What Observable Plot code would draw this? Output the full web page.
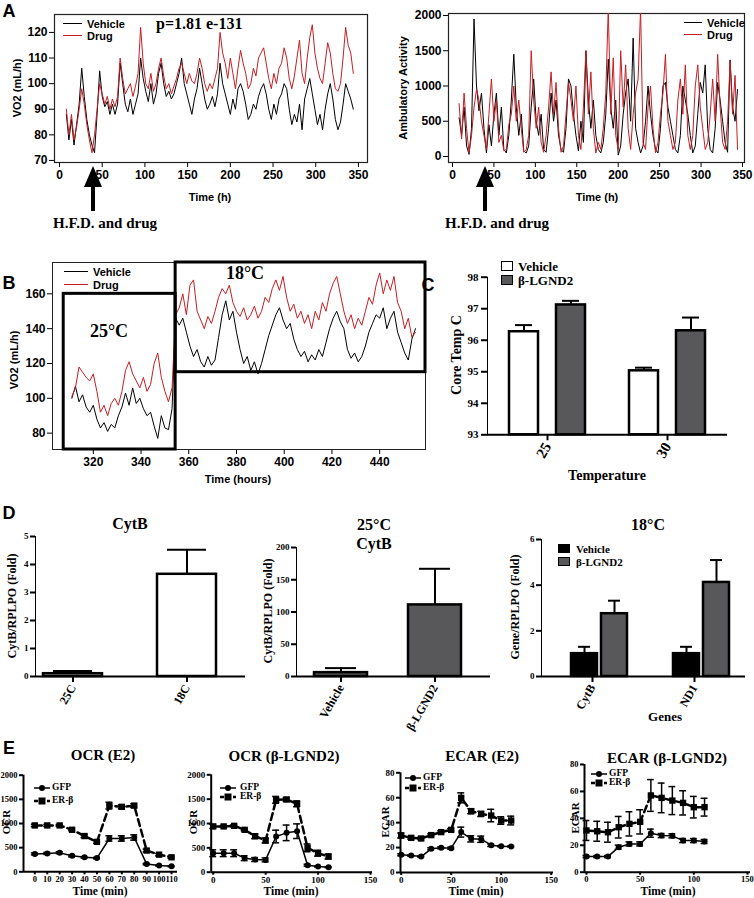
<!DOCTYPE html>
<html><head><meta charset="utf-8">
<script src="https://cdn.jsdelivr.net/npm/d3@7"></script>
<script src="https://cdn.jsdelivr.net/npm/@observablehq/plot@0.6"></script>
<style>
body{margin:0;background:#fff;}
#root{position:relative;width:754px;height:898px;overflow:hidden;background:#fff;}
.thick [aria-label*="axis"] line, .thick [aria-label*="axis"] path{stroke-width:2px;}
</style></head>
<body><div id="root"></div>
<script>
const SANS = '"Liberation Sans", Arial, sans-serif';
const SERIF = '"Liberation Serif", "Times New Roman", serif';
const RED = '#c41e24';
const GREY = '#58585a';

// ---------- Panel A (time series, 3 h sampling) ----------
const aStart = 8, aStep = 3;
const hfdTime = 40;
const aTicksX = [0, 50, 100, 150, 200, 250, 300, 350];
const aTicksY = [70, 80, 90, 100, 110, 120];
const actTicksY = [0, 500, 1000, 1500, 2000];
const vo2Vehicle = [88,78,86,76,84,92,106,95,86,80, 76,73,88,105,95,91,93,88,92,88, 92,108,100,92,89,94,88,92,96,110,
  102,97,93,100,92,96,104,108,100,95, 97,94,96,100,104,110,100,96,92,88, 94,98,106,100,94,90,92,95,91,96,
  108,100,96,92,88,94,90,98,100,97, 92,86,88,92,90,95,98,100,96,90, 86,92,88,94,96,100,98,90,84,88,
  85,92,82,94,98,102,96,90,84,88, 82,90,96,100,94,86,82,85,92,100, 97,94,90];
const vo2Drug = [90,80,88,78,83,90,98,92,84,78, 73,80,90,100,96,92,95,90,94,91, 95,110,102,96,98,100,95,99,104,122,
  108,100,98,104,97,100,106,110,103,98, 100,96,99,102,106,108,104,100,104,101, 100,104,110,106,100,97,100,98,102,106,
  120,112,108,102,110,104,98,106,113,108, 104,98,100,106,103,110,112,114,108,102, 98,104,100,106,108,114,110,102,98,103,
  110,117,104,100,110,118,123,112,106,102, 100,108,116,112,104,98,97,100,110,122, 115,112,104];
const actVehicle = [550,300,700,150,30,400,1950,1000,650,900, 400,50,450,150,600,900,300,700,100,50, 300,800,1450,700,300,600,80,50,150,700,
  1100,500,300,600,100,60,400,900,500,800, 300,100,60,400,1100,1000,600,300,80,500, 200,1500,800,400,800,300,100,50,200,600,
  1380,700,400,800,20,150,600,900,1100,500, 1680,400,200,50,150,500,1000,600,300,100, 50,400,1000,1050,700,500,300,100,50,300,
  1000,800,600,300,50,150,600,1050,900,1300, 400,100,50,400,1050,800,500,200,60,1370, 700,500,950];
const actDrug = [750,250,900,400,50,300,700,950,800,500, 300,100,600,1100,500,800,200,300,80,100, 450,600,1000,500,800,400,60,100,300,1500,
  800,400,700,200,60,300,700,1200,600,1050, 400,60,150,600,1050,800,500,1000,300,100, 700,1500,600,1200,400,50,200,100,400,900,
  2100,600,1400,300,100,1500,700,1300,400,100, 600,900,1100,2100,200,100,700,1000,400,50, 200,600,900,1450,500,300,100,200,800,1100,
  600,1300,300,100,300,1000,1300,700,400,100, 200,600,1100,500,1450,700,200,100,500,1350, 600,1150,100];

// ---------- Panel B (1.5 h sampling) ----------
const bStart = 311, bStep = 1.5;
const bTicksX = [320, 340, 360, 380, 400, 420, 440];
const bTicksY = [80, 100, 120, 140, 160];
const vo2VehicleB = [100,107,98,102,95,92,96,88,83,86, 81,85,83,90,95,103,96,106,97,100, 94,90,92,84,77,90,83,82,94,146,
  142,146,138,130,124,128,121,118,124,119, 122,135,148,156,145,150,138,128,120,124, 116,121,114,120,128,136,142,148,152,145,
  140,143,134,128,124,127,121,125,122,128, 124,132,140,146,150,144,140,128,123,126, 121,124,130,138,143,148,146,152,140,146,
  150,138,132,126,122,134,140];
const vo2DrugB = [101,106,118,115,112,110,114,104,92,96, 90,97,100,96,104,116,121,114,110,106, 112,104,108,120,126,112,104,98,106,148,
  152,160,148,165,168,150,145,140,147,143, 150,158,163,160,165,155,150,147,152,145, 148,153,146,150,158,155,163,168,162,170,
  158,150,154,146,150,143,148,140,150,145, 155,150,160,166,170,160,150,143,148,140, 146,142,150,158,154,165,172,160,168,162,
  170,155,150,140,146,135,138];
const tempPeriods = [
  {label: "25°C", start: 307.6, end: 354.5, low: 70.6, high: 160},
  {label: "18°C", start: 354.5, end: 459.2, low: 115, high: 178}
];

// ---------- Panel C ----------
const coreTemps = ["25", "30"];
const treatments = ["Vehicle", "β-LGND2"];
const cTicksY = [93, 94, 95, 96, 97, 98];
const coreVehicle = [96.27, 95.03];
const coreVehicleErr = [0.21, 0.10];
const coreDrug = [97.12, 96.30];
const coreDrugErr = [0.13, 0.42];

// ---------- Panel D ----------
const d1Cats = ["25C", "18C"];
const d1Mean = [0.10, 3.65];
const d1Err = [0.10, 0.88];
const d1TicksY = [0, 1, 2, 3, 4, 5];
const d2Cats = ["Vehicle", "β-LGND2"];
const d2Mean = [6, 111];
const d2Err = [7, 56];
const d2TicksY = [0, 50, 100, 150, 200];
const d3Genes = ["CytB", "ND1"];
const d3Vehicle = [1.0, 1.0];
const d3VehicleErr = [0.3, 0.3];
const d3Drug = [2.75, 4.12];
const d3DrugErr = [0.57, 0.98];
const d3TicksY = [0, 2, 4, 6];

// ---------- Panel E ----------
const eTimes = [0, 10, 20, 30, 40, 50, 60, 70, 80, 90, 100, 110];
const e1Gfp = [370,380,395,330,300,285,690,690,710,160,130,115];
const e1GfpErr = [20,20,20,20,15,15,55,55,55,15,10,10];
const e1Er = [960,960,960,870,740,620,1370,1345,1370,440,355,300];
const e1ErErr = [25,20,20,20,30,30,70,40,40,30,25,20];
const e2Gfp = [390,390,390,288,260,253,733,808,842,144,116,103];
const e2GfpErr = [70,70,70,50,40,40,130,160,150,20,10,10];
const e2Er = [940,940,952,870,740,651,1486,1493,1404,500,390,322];
const e2ErErr = [40,20,20,20,50,50,70,40,60,80,60,50];
const e3Gfp = [14.2,13.6,12.8,19,19.8,19.5,32.4,27,26.7,21.9,21.1,20.9];
const e3GfpErr = [0.8,0.5,0.5,0.8,0.8,0.8,4,2.5,2.5,1,0.5,0.5];
const e3Er = [29.7,27.8,27.3,30,32.4,34.2,59.9,49.2,47,45.7,41.7,41.7];
const e3ErErr = [2,1,1,1,1,1,4,2,2,5,3,3.5];
const e4Gfp = [11.6,11.6,11.6,18.6,21,21,29,27.2,27,23.5,23.5,22.8];
const e4GfpErr = [0.8,0.8,0.8,1.5,1.5,1.5,3,1.5,1.5,1.5,1.5,1.5];
const e4Er = [31,30.4,29.7,33.4,35.9,37.4,57,55.2,53.2,51.5,48.3,48.3];
const e4ErErr = [7.4,7.4,7.4,8,9,9,11.8,11,10.4,9,8,6.6];
const ocrTicksY = [0, 500, 1000, 1500, 2000];
const ecarTicksY = [0, 20, 40, 60, 80];
const e1TicksX = [0,10,20,30,40,50,60,70,80,90,100,110];
const eTicksX = [0, 50, 100, 150];

// ---------- helpers ----------
const root = document.getElementById('root');
function put(el, left, top) {
  el.style.position = 'absolute'; el.style.left = left + 'px'; el.style.top = top + 'px';
  root.appendChild(el); return el;
}
function label(text, x, y, o = {}) {
  const d = document.createElement('div');
  d.textContent = text;
  const anchor = o.anchor || 'middle';
  Object.assign(d.style, {position: 'absolute', left: x + 'px', top: y + 'px', fontSize: (o.size || 12) + 'px',
    fontFamily: o.family || SANS, fontWeight: o.weight || 'bold', whiteSpace: 'nowrap', lineHeight: '1', color: '#000'});
  const tx = anchor === 'middle' ? '-50%' : anchor === 'end' ? '-100%' : '0%';
  d.style.transform = `translate(${tx},-50%)` + (o.rotate ? ` rotate(${o.rotate}deg)` : '');
  root.appendChild(d);
}
function hline(x1, x2, y, color, w = 1.5) {
  const d = document.createElement('div');
  Object.assign(d.style, {position: 'absolute', left: x1 + 'px', top: (y - w / 2) + 'px', width: (x2 - x1) + 'px', height: '0', borderTop: `${w}px solid ${color}`});
  root.appendChild(d);
}
function box(x, y, w, h, fill, stroke = '#000', sw = 1.5) {
  const d = document.createElement('div');
  Object.assign(d.style, {position: 'absolute', left: x + 'px', top: y + 'px', width: w + 'px', height: h + 'px', background: fill, border: `${sw}px solid ${stroke}`, boxSizing: 'border-box'});
  root.appendChild(d);
}
function eLegendSwatch(x, y, dashed, square) {
  const ns = 'http://www.w3.org/2000/svg';
  const s = document.createElementNS(ns, 'svg');
  s.setAttribute('width', 16); s.setAttribute('height', 10);
  const l = document.createElementNS(ns, 'line');
  l.setAttribute('x1', 0); l.setAttribute('x2', 16); l.setAttribute('y1', 5); l.setAttribute('y2', 5);
  l.setAttribute('stroke', '#000'); l.setAttribute('stroke-width', dashed ? 2.5 : 1.5);
  if (dashed) l.setAttribute('stroke-dasharray', '4,2.5');
  s.appendChild(l);
  if (square) {
    const r = document.createElementNS(ns, 'rect');
    r.setAttribute('x', 4.5); r.setAttribute('y', 1.5); r.setAttribute('width', 7); r.setAttribute('height', 7); s.appendChild(r);
  } else {
    const c = document.createElementNS(ns, 'circle');
    c.setAttribute('cx', 8); c.setAttribute('cy', 5); c.setAttribute('r', 3); s.appendChild(c);
  }
  put(s, x, y - 5);
}
function setTextSize(svg, sel, size) {
  svg.querySelectorAll(sel).forEach(t => { t.setAttribute('font-size', size); t.style.fontSize = size + 'px'; });
}
const sansStyle = {fontFamily: SANS, fontSize: '12px', fontWeight: 'bold', color: '#000', background: 'transparent', overflow: 'visible'};
const serifStyle = (fs) => ({fontFamily: SERIF, fontSize: fs + 'px', fontWeight: 'bold', color: '#000', background: 'transparent', overflow: 'visible'});
const fmt = d3.format('d');

// ---------- Panel A left ----------
const aLeft = Plot.plot({
  width: 380, height: 235, marginLeft: 54, marginRight: 13, marginTop: 14, marginBottom: 73,
  x: {domain: [-5.85, 360.6], ticks: aTicksX, tickSize: 5, tickPadding: 3, label: null},
  y: {domain: [69.2, 127], ticks: aTicksY, tickSize: 5, tickPadding: 2, label: null},
  style: sansStyle,
  marks: [
    Plot.frame({stroke: '#222', strokeWidth: 1.2}),
    Plot.lineY(vo2Vehicle, {x: (d, i) => aStart + aStep * i, y: d => d, stroke: '#000', strokeWidth: 1}),
    Plot.lineY(vo2Drug, {x: (d, i) => aStart + aStep * i, y: d => d, stroke: RED, strokeWidth: 1})
  ]
});
put(aLeft, 0, 0);

// ---------- Panel A right ----------
const aRight = Plot.plot({
  width: 374, height: 235, marginLeft: 68, marginRight: 10, marginTop: 13, marginBottom: 73,
  x: {domain: [-4.8, 352.4], ticks: aTicksX, tickSize: 5, tickPadding: 3, label: null},
  y: {domain: [-85, 2028], ticks: actTicksY, tickFormat: fmt, tickSize: 5, tickPadding: 2, label: null},
  style: sansStyle,
  marks: [
    Plot.frame({stroke: '#222', strokeWidth: 1.2}),
    Plot.lineY(actVehicle, {x: (d, i) => aStart + aStep * i, y: d => d, stroke: '#000', strokeWidth: 1, clip: true}),
    Plot.lineY(actDrug, {x: (d, i) => aStart + aStep * i, y: d => d, stroke: RED, strokeWidth: 1, clip: true})
  ]
});
put(aRight, 380, 0);

// arrows (H.F.D. start)
function arrowAt(px) {
  const head = document.createElement('div');
  Object.assign(head.style, {position: 'absolute', left: (px - 9) + 'px', top: '166px', width: '0', height: '0',
    borderLeft: '9px solid transparent', borderRight: '9px solid transparent', borderBottom: '21px solid #000'});
  root.appendChild(head);
  const shaft = document.createElement('div');
  Object.assign(shaft.style, {position: 'absolute', left: (px - 2) + 'px', top: '185px', width: '4px', height: '26px', background: '#000'});
  root.appendChild(shaft);
}
arrowAt(aLeft.scale('x').apply(hfdTime));
arrowAt(380 + aRight.scale('x').apply(hfdTime));
label('H.F.D. and drug', 105, 223, {family: SERIF, size: 15});
label('H.F.D. and drug', 497, 223, {family: SERIF, size: 15});
label('Time (h)', 210, 197, {size: 11});
label('Time (h)', 597, 197, {size: 11});
label('VO2 (mL/h)', 17, 88, {size: 11, rotate: -90});
label('Ambulatory Activity', 403, 88, {size: 11, rotate: -90});
hline(63, 82, 24, '#000', 1.5); label('Vehicle', 87, 24, {size: 11, anchor: 'start'});
hline(63, 82, 36, RED, 1.5); label('Drug', 87, 36, {size: 11, anchor: 'start'});
label('p=1.81 e-131', 156, 24, {family: SERIF, size: 16, anchor: 'start'});
hline(684, 702, 23, '#000', 1.5); label('Vehicle', 707, 23, {size: 11, anchor: 'start'});
hline(684, 702, 35, RED, 1.5); label('Drug', 707, 35, {size: 11, anchor: 'start'});

// ---------- Panel B ----------
const bPlot = Plot.plot({
  width: 430, height: 240, marginLeft: 52, marginRight: 5, marginTop: 12, marginBottom: 41,
  x: {domain: [302.9, 459.2], ticks: bTicksX, tickSize: 5, tickPadding: 3, label: null},
  y: {domain: [70.6, 178], ticks: bTicksY, tickSize: 5, tickPadding: 2, label: null},
  style: sansStyle,
  marks: [
    Plot.frame({stroke: '#222', strokeWidth: 1}),
    Plot.lineY(vo2VehicleB, {x: (d, i) => bStart + bStep * i, y: d => d, stroke: '#000', strokeWidth: 1}),
    Plot.lineY(vo2DrugB, {x: (d, i) => bStart + bStep * i, y: d => d, stroke: RED, strokeWidth: 1}),
    Plot.rect(tempPeriods, {x1: 'start', x2: 'end', y1: 'low', y2: 'high', fill: 'none', stroke: '#000', strokeWidth: 3})
  ]
});
put(bPlot, 0, 250);
label('25°C', 109, 331, {family: SERIF, size: 18});
label('18°C', 245, 273, {family: SERIF, size: 18});
hline(64, 88, 272, '#000', 1.5); label('Vehicle', 93, 272, {size: 11, anchor: 'start'});
hline(64, 88, 285, RED, 1.5); label('Drug', 93, 285, {size: 11, anchor: 'start'});
label('Time (hours)', 238, 479, {size: 11});
label('VO2 (mL/h)', 14, 360, {size: 11, rotate: -90});

// ---------- Panel C ----------
const coreData = coreTemps.flatMap((t, i) => [
  {temp: t, group: treatments[0], value: coreVehicle[i], err: coreVehicleErr[i]},
  {temp: t, group: treatments[1], value: coreDrug[i], err: coreDrugErr[i]}
]);
const cPlot = Plot.plot({
  width: 324, height: 235, marginLeft: 57, marginRight: 27, marginTop: 21.7, marginBottom: 55.7,
  fx: {domain: coreTemps, padding: 0, axis: 'bottom', tickRotate: -60, tickSize: 6, tickPadding: 3, label: null},
  x: {domain: treatments, paddingInner: 0.383, paddingOuter: 0.468, axis: null},
  y: {domain: [93, 98], ticks: cTicksY, tickFormat: fmt, tickSize: 6, tickPadding: 3, line: true, label: null},
  style: serifStyle(11),
  marks: [
    Plot.ruleX(coreData, {fx: 'temp', x: 'group', y1: 'value', y2: d => d.value + d.err, strokeWidth: 2}),
    Plot.tickY(coreData, {fx: 'temp', x: 'group', y: d => d.value + d.err, strokeWidth: 2, insetLeft: 6, insetRight: 6}),
    Plot.barY(coreData.filter(d => d.group === treatments[0]), {fx: 'temp', x: 'group', y1: 93, y2: 'value', fill: 'white', stroke: '#000', strokeWidth: 2.5}),
    Plot.barY(coreData.filter(d => d.group === treatments[1]), {fx: 'temp', x: 'group', y1: 93, y2: 'value', fill: GREY, stroke: '#000', strokeWidth: 2.5}),
    Plot.ruleY([93], {strokeWidth: 2})
  ]
});
cPlot.classList.add('thick');
setTextSize(cPlot, '[aria-label*="fx-axis"] text', 15);
put(cPlot, 430, 255);
box(501, 261, 12, 10, 'white', '#000', 1.5); label('Vehicle', 518, 266, {family: SERIF, size: 13, anchor: 'start'});
box(501, 275, 12, 10, GREY, '#000', 1.5); label('β-LGND2', 518, 280, {family: SERIF, size: 13, anchor: 'start'});
label('Core Temp C', 457, 355, {family: SERIF, size: 14, rotate: -90});
label('Temperature', 607, 476, {family: SERIF, size: 14});

// ---------- Panel D ----------
function simpleBars(cats, mean, err, o) {
  const data = cats.map((c, i) => ({cat: c, value: mean[i], err: err[i]}));
  const p = Plot.plot({
    width: o.width, height: 240, marginLeft: o.mL, marginRight: o.mR, marginTop: o.mT, marginBottom: 64,
    x: {type: 'band', domain: cats, paddingInner: o.pi, paddingOuter: o.po, align: o.align, tickRotate: -60, tickSize: 6, tickPadding: 3, label: null},
    y: {domain: o.yDomain, ticks: o.yTicks, tickFormat: fmt, tickSize: 5, tickPadding: 2, line: true, label: null},
    style: serifStyle(9),
    marks: [
      Plot.ruleX(data, {x: 'cat', y1: 'value', y2: d => d.value + d.err, strokeWidth: 2}),
      Plot.tickY(data, {x: 'cat', y: d => d.value + d.err, strokeWidth: 2, insetLeft: o.cap, insetRight: o.cap}),
      Plot.barY(data, {x: 'cat', y: 'value', fill: o.fill, stroke: '#000', strokeWidth: 2.5}),
      Plot.ruleY([o.yDomain[0]], {strokeWidth: 2})
    ]
  });
  p.classList.add('thick');
  setTextSize(p, '[aria-label*="x-axis"] text', 12);
  return p;
}
put(simpleBars(d1Cats, d1Mean, d1Err, {width: 250, mL: 35, mR: 5, mT: 36, pi: 0.485, po: 0.16, align: 0.205, yDomain: [0, 5], yTicks: d1TicksY, fill: 'white', cap: 10}), 0, 500);
put(simpleBars(d2Cats, d2Mean, d2Err, {width: 245, mL: 46, mR: 5, mT: 47, pi: 0.44, po: 0.2476, align: 0.374, yDomain: [0, 200], yTicks: d2TicksY, fill: GREY, cap: 11}), 250, 500);

const d3Data = d3Genes.flatMap((g, i) => [
  {gene: g, group: treatments[0], value: d3Vehicle[i], err: d3VehicleErr[i]},
  {gene: g, group: treatments[1], value: d3Drug[i], err: d3DrugErr[i]}
]);
const d3Plot = Plot.plot({
  width: 259, height: 240, marginLeft: 45, marginRight: 9, marginTop: 39, marginBottom: 64,
  fx: {domain: d3Genes, padding: 0, axis: 'bottom', tickRotate: -60, tickSize: 6, tickPadding: 3, label: null},
  x: {domain: treatments, paddingInner: 0.129, paddingOuter: 0.7177, align: 0.646, axis: null},
  y: {domain: [0, 6], ticks: d3TicksY, tickFormat: fmt, tickSize: 5, tickPadding: 2, line: true, label: null},
  style: serifStyle(9),
  marks: [
    Plot.ruleX(d3Data, {fx: 'gene', x: 'group', y1: 'value', y2: d => d.value + d.err, strokeWidth: 2}),
    Plot.tickY(d3Data, {fx: 'gene', x: 'group', y: d => d.value + d.err, strokeWidth: 2, insetLeft: 7, insetRight: 7}),
    Plot.barY(d3Data.filter(d => d.group === treatments[0]), {fx: 'gene', x: 'group', y: 'value', fill: '#000', stroke: '#000', strokeWidth: 2.5}),
    Plot.barY(d3Data.filter(d => d.group === treatments[1]), {fx: 'gene', x: 'group', y: 'value', fill: GREY, stroke: '#000', strokeWidth: 2.5}),
    Plot.ruleY([0], {strokeWidth: 2})
  ]
});
d3Plot.classList.add('thick');
setTextSize(d3Plot, '[aria-label*="fx-axis"] text', 12);
put(d3Plot, 495, 500);

label('CytB', 130, 524, {family: SERIF, size: 16});
label('25°C', 374, 525, {family: SERIF, size: 16});
label('CytB', 374, 544, {family: SERIF, size: 16});
label('18°C', 648, 525, {family: SERIF, size: 16});
label('CytB/RPLPO (Fold)', 12, 606, {family: SERIF, size: 12, rotate: -90});
label('CytB/RPLPO (Fold)', 268, 611, {family: SERIF, size: 12, rotate: -90});
label('Gene/RPLPO (Fold)', 515, 607, {family: SERIF, size: 12, rotate: -90});
label('Genes', 665, 716, {family: SERIF, size: 13});
box(558, 544, 12, 9, '#000', '#000', 1.5); label('Vehicle', 576, 548.5, {family: SERIF, size: 11, anchor: 'start'});
box(558, 557, 12, 9, GREY, '#000', 1.5); label('β-LGND2', 576, 561.5, {family: SERIF, size: 11, anchor: 'start'});

// ---------- Panel E ----------
function ePlot(o) {
  const gfp = eTimes.map((t, i) => ({t, v: o.gfp[i], e: o.gfpErr[i]}));
  const er = eTimes.map((t, i) => ({t, v: o.er[i], e: o.erErr[i]}));
  const errMarks = (data, w) => [
    Plot.ruleX(data, {x: 't', y1: d => d.v - d.e, y2: d => d.v + d.e, strokeWidth: w}),
    Plot.ruleY(data, {y: d => d.v + d.e, x1: d => d.t - o.cap, x2: d => d.t + o.cap, strokeWidth: w}),
    Plot.ruleY(data, {y: d => d.v - d.e, x1: d => d.t - o.cap, x2: d => d.t + o.cap, strokeWidth: w})
  ];
  const p = Plot.plot({
    width: o.width, height: 153, marginLeft: o.mL, marginRight: o.mR, marginTop: o.mT, marginBottom: o.mB,
    x: {domain: o.xDomain, ticks: o.xTicks, tickSize: 3, tickPadding: 1, label: null},
    y: {domain: o.yDomain, ticks: o.yTicks, tickFormat: fmt, tickSize: 4, tickPadding: 2, label: null},
    style: serifStyle(o.fs || 9),
    marks: [
      ...errMarks(er, 1.5),
      ...errMarks(gfp, 1.5),
      Plot.line(er, {x: 't', y: 'v', stroke: '#000', strokeWidth: 2.5, strokeDasharray: '7,4'}),
      Plot.line(gfp, {x: 't', y: 'v', stroke: '#000', strokeWidth: 1.5}),
      Plot.dot(er, {x: 't', y: 'v', symbol: 'square', r: 3.6, fill: '#000'}),
      Plot.dot(gfp, {x: 't', y: 'v', r: 3, fill: '#000'}),
      Plot.ruleY([o.yDomain[0]], {strokeWidth: 2}),
      Plot.ruleX([o.xDomain[0]], {strokeWidth: 2})
    ]
  });
  p.classList.add('thick');
  return p;
}
put(ePlot({width: 185, mL: 23, mR: 8, mT: 29.7, mB: 26.7, xDomain: [-9.1, 114.8], xTicks: e1TicksX, yDomain: [0, 2000], yTicks: ocrTicksY,
  gfp: e1Gfp, gfpErr: e1GfpErr, er: e1Er, erErr: e1ErErr, cap: 2.8, fs: 8.5}), 0, 745);
put(ePlot({width: 190, mL: 20.7, mR: 8, mT: 29.3, mB: 26.3, xDomain: [-1.9, 151.9], xTicks: eTicksX, yDomain: [0, 2000], yTicks: ocrTicksY,
  gfp: e2Gfp, gfpErr: e2GfpErr, er: e2Er, erErr: e2ErErr, cap: 3.3}), 190, 745);
put(ePlot({width: 190, mL: 20, mR: 17, mT: 27.3, mB: 26, xDomain: [-0.7, 152.3], xTicks: eTicksX, yDomain: [0, 80], yTicks: ecarTicksY,
  gfp: e3Gfp, gfpErr: e3GfpErr, er: e3Er, erErr: e3ErErr, cap: 3.5}), 380, 745);
put(ePlot({width: 184, mL: 14, mR: 4, mT: 19, mB: 26.3, xDomain: [-1.84, 152.8], xTicks: eTicksX, yDomain: [0, 80], yTicks: ecarTicksY,
  gfp: e4Gfp, gfpErr: e4GfpErr, er: e4Er, erErr: e4ErErr, cap: 3.2, fs: 8.5}), 570, 745);

label('OCR (E2)', 103, 755, {family: SERIF, size: 15});
label('OCR (β-LGND2)', 284, 756, {family: SERIF, size: 15});
label('ECAR (E2)', 482, 756, {family: SERIF, size: 15});
label('ECAR (β-LGND2)', 667, 758, {family: SERIF, size: 15});
label('OCR', 6, 822, {family: SERIF, size: 11, rotate: -90});
label('OCR', 193, 822, {family: SERIF, size: 11, rotate: -90});
label('ECAR', 385, 822, {family: SERIF, size: 11, rotate: -90});
label('ECAR', 575, 818, {family: SERIF, size: 11, rotate: -90});
[[100, 892], [291, 892], [476, 892], [668, 892]].forEach(([x, y]) => label('Time (min)', x, y, {family: SERIF, size: 11.5}));
eLegendSwatch(34, 788, false, false); label('GFP', 52, 788, {family: SERIF, size: 9.5, anchor: 'start'});
eLegendSwatch(34, 801, true, true); label('ER-β', 52, 801, {family: SERIF, size: 9.5, anchor: 'start'});
eLegendSwatch(220, 788, false, false); label('GFP', 240, 788, {family: SERIF, size: 9.5, anchor: 'start'});
eLegendSwatch(220, 797, true, true); label('ER-β', 240, 797, {family: SERIF, size: 9.5, anchor: 'start'});
eLegendSwatch(405, 778, false, false); label('GFP', 423, 778, {family: SERIF, size: 9.5, anchor: 'start'});
eLegendSwatch(405, 788, true, true); label('ER-β', 423, 788, {family: SERIF, size: 9.5, anchor: 'start'});
eLegendSwatch(591, 774, false, false); label('GFP', 609, 774, {family: SERIF, size: 9.5, anchor: 'start'});
eLegendSwatch(591, 783, true, true); label('ER-β', 609, 783, {family: SERIF, size: 9.5, anchor: 'start'});

// panel letters
label('A', 9, 11, {size: 18});
label('B', 9, 283, {size: 18});
label('C', 428, 285, {size: 18});
label('D', 9, 513, {size: 18});
label('E', 9, 748, {size: 18});
</script></body></html>
